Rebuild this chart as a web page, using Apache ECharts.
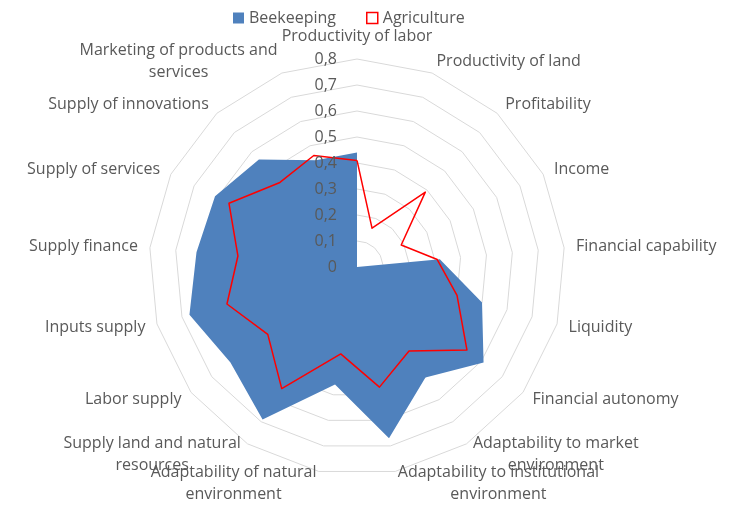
<!DOCTYPE html>
<html>
<head>
<meta charset="utf-8">
<script src="https://cdn.jsdelivr.net/npm/echarts@6/dist/echarts.min.js"></script>
<style>
html, body { margin: 0; padding: 0; background: #fff; }
#chart { width: 733px; height: 506px; }
</style>
</head>
<body>
<div id="chart"></div>
<script>
// indicators, clockwise from the top as in the picture
var indicatorNames = [
	'Productivity of labor',
	'Productivity of land',
	'Profitability',
	'Income',
	'Financial capability',
	'Liquidity',
	'Financial autonomy',
	'Adaptability to market\nenvironment',
	'Adaptability to institutional\nenvironment',
	'Adaptability of natural\nenvironment',
	'Supply land and natural\nresources',
	'Labor supply',
	'Inputs supply',
	'Supply finance',
	'Supply of services',
	'Supply of innovations',
	'Marketing of products and\nservices'
];
var beekeeping = [0.44, 0, 0, 0, 0.32, 0.50, 0.61, 0.50, 0.67, 0.46, 0.69, 0.61, 0.67, 0.62, 0.61, 0.56, 0.44];
var agriculture = [0.41, 0.16, 0.39, 0.19, 0.31, 0.40, 0.53, 0.38, 0.47, 0.34, 0.55, 0.43, 0.52, 0.46, 0.55, 0.44, 0.46];
var axisMax = 0.8;

var textColor = '#595959';
var fontName = 'Open Sans';
var fontSize = 16;

// measure text so multi-line names can be centred line by line (like Excel)
var measureCtx = document.createElement('canvas').getContext('2d');
measureCtx.font = fontSize + 'px "' + fontName + '"';

// echarts lays indicators out counter-clockwise, so keep the first and reverse the rest
var order = [0];
for(var i = indicatorNames.length - 1; i > 0; i--){
	order.push(i);
}
var indicators = [];
var labelIndicators = [];
var beeData = [];
var agriData = [];
var nameRich = {};
for(var j = 0; j < order.length; j++){
	var k = order[j];
	indicators.push({ name: indicatorNames[k], min: 0, max: axisMax });
	var li = { name: '', min: 0, max: axisMax };
	if(k == 0){
		li.axisLabel = {
			show: true,
			color: textColor,
			fontFamily: fontName,
			fontSize: fontSize,
			margin: 20,
			padding: [5, 0, 0, 0],
			formatter: function(v){ return String(v).replace('.', ','); }
		};
	}
	labelIndicators.push(li);
	beeData.push(beekeeping[k]);
	agriData.push(agriculture[k]);

	var lines = indicatorNames[k].split('\n');
	var w = 0;
	for(var m = 0; m < lines.length; m++){
		w = Math.max(w, measureCtx.measureText(lines[m]).width);
	}
	nameRich['n' + k] = { width: Math.ceil(w), align: 'center', color: textColor, fontFamily: fontName, fontSize: fontSize, lineHeight: 22 };
}

function nameFormatter(name){
	var k = indicatorNames.indexOf(name);
	var lines = name.split('\n');
	if(lines.length == 1){
		return name;
	}
	var out = [];
	for(var m = 0; m < lines.length; m++){
		out.push('{n' + k + '|' + lines[m] + '}');
	}
	return out.join('\n');
}

var theChart = echarts.init(document.getElementById('chart'));
var radarBase = {
	center: [357, 267],
	radius: 208,
	shape: 'polygon',
	splitNumber: 8,
	startAngle: 90
};
var option = {
	animation: false,
	legend: {
		top: 5,
		left: 228,
		itemWidth: 11,
		itemHeight: 11,
		itemGap: 30,
		textStyle: { color: textColor, fontFamily: fontName, fontSize: fontSize },
		data: [
			{ name: 'Beekeeping', icon: 'rect', itemStyle: { color: '#4f81bd' } },
			{ name: 'Agriculture', icon: 'rect', itemStyle: { color: '#fff', borderColor: '#ff0000', borderWidth: 1.5 } }
		]
	},
	radar: [
		echarts.util.merge({
			indicator: indicators,
			nameGap: 12,
			axisName: {
				color: textColor, fontFamily: fontName, fontSize: fontSize, lineHeight: 22,
				formatter: nameFormatter,
				rich: nameRich
			},
			axisLine: { show: false },
			axisTick: { show: false },
			axisLabel: { show: false },
			splitArea: { show: false },
			splitLine: { lineStyle: { color: '#d9d9d9', width: 1 } }
		}, radarBase),
		// second copy only for the tick labels, drawn above the filled area
		echarts.util.merge({
			z: 5,
			indicator: labelIndicators,
			axisName: { show: false },
			axisLine: { show: false },
			axisTick: { show: false },
			axisLabel: { show: false },
			splitArea: { show: false },
			splitLine: { show: false }
		}, radarBase)
	],
	series: [{
		type: 'radar',
		radarIndex: 0,
		symbol: 'none',
		data: [
			{
				name: 'Beekeeping',
				value: beeData,
				lineStyle: { width: 0, color: '#4f81bd' },
				itemStyle: { color: '#4f81bd' },
				areaStyle: { color: '#4f81bd', opacity: 1 }
			},
			{
				name: 'Agriculture',
				value: agriData,
				lineStyle: { width: 1.5, color: '#ff0000' },
				itemStyle: { color: '#ff0000' }
			}
		]
	}]
};
theChart.setOption(option);
</script>
</body>
</html>
